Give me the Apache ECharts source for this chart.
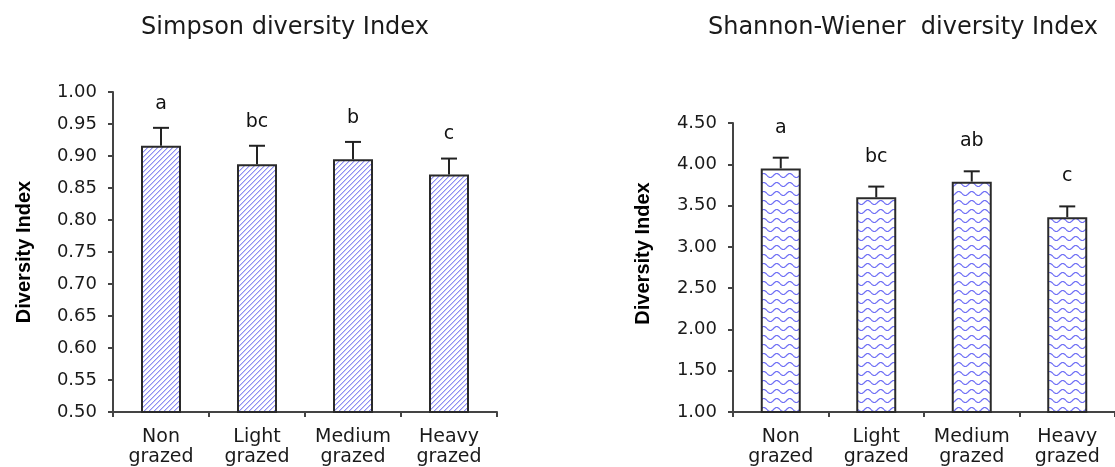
<!DOCTYPE html>
<html>
<head>
<meta charset="utf-8">
<script src="https://cdn.jsdelivr.net/npm/echarts@6/dist/echarts.min.js"></script>
<style>
html,body{margin:0;padding:0;background:#fff;}
#chart{width:1115px;height:467px;}
</style>
</head>
<body>
<div id="chart"></div>
<script>
const categories = ['Non\ngrazed', 'Light\ngrazed', 'Medium\ngrazed', 'Heavy\ngrazed'];
const simpsonMean = [0.916, 0.887, 0.895, 0.871];
const simpsonErr = [0.028, 0.029, 0.027, 0.025];
const simpsonLetters = ['a', 'bc', 'b', 'c'];
const shannonMean = [3.95, 3.60, 3.79, 3.36];
const shannonErr = [0.13, 0.13, 0.125, 0.13];
const shannonLetters = ['a', 'bc', 'ab', 'c'];
const titles = ['Simpson diversity Index', 'Shannon-Wiener  diversity Index'];
const yName = 'Diversity Index';

function diagPattern() {
  const n = 5;
  const c = document.createElement('canvas');
  c.width = n; c.height = n;
  const g = c.getContext('2d');
  g.fillStyle = '#ffffff'; g.fillRect(0, 0, n, n);
  for (let x = 0; x < n; x++) {
    const y = (n - 1 - x);
    g.fillStyle = '#8f8ff2';
    g.fillRect(x, y, 1, 1);
    g.fillStyle = '#c8c8fa';
    g.fillRect(x, (y + 1) % n, 1, 1);
  }
  return c;
}
function wavePattern() {
  const w = 13, h = 9;
  const c = document.createElement('canvas');
  c.width = w; c.height = h;
  const g = c.getContext('2d');
  g.fillStyle = '#ffffff'; g.fillRect(0, 0, w, h);
  g.strokeStyle = '#7070f5'; g.lineWidth = 1.2;
  g.beginPath();
  for (let x = 0; x <= w; x += 0.5) {
    const y = 4.5 + 2 * Math.sin(2 * Math.PI * x / w);
    if (x === 0) g.moveTo(x, y); else g.lineTo(x, y);
  }
  g.stroke();
  return c;
}

const FONT = "'DejaVu Sans', sans-serif";
const NAMEFONT = "'Liberation Sans', Arial, sans-serif";

function errRender(letters, offset) {
  return function (params, api) {
    const i = api.value(0);
    const base = api.coord([i, api.value(1)]);
    const top = api.coord([i, api.value(1) + api.value(2)]);
    const half = 8;
    const st = { stroke: '#222', lineWidth: 2 };
    return {
      type: 'group',
      children: [
        { type: 'line', shape: { x1: base[0], y1: base[1], x2: top[0], y2: top[1] }, style: st },
        { type: 'line', shape: { x1: top[0] - half, y1: top[1], x2: top[0] + half, y2: top[1] }, style: st },
        { type: 'text', x: top[0], y: top[1] - offset,
          style: { text: letters[i], fill: '#111', font: '19px ' + FONT, align: 'center', verticalAlign: 'middle' } }
      ]
    };
  };
}

const axisLineStyle = { color: '#444444', width: 2 };

function xAxisCfg(gi) {
  return {
    type: 'category', gridIndex: gi, data: categories,
    axisLine: { show: true, lineStyle: axisLineStyle },
    axisTick: { show: true, inside: false, length: 5, lineStyle: axisLineStyle },
    axisLabel: { color: '#1a1a1a', fontFamily: FONT, fontSize: 19, lineHeight: 20, margin: 15, interval: 0 }
  };
}
function yAxisCfg(gi, min, max, interval, gap, pad) {
  return {
    type: 'value', gridIndex: gi, min: min, max: max, interval: interval,
    name: yName, nameLocation: 'middle', nameGap: gap,
    nameTextStyle: { fontFamily: NAMEFONT, fontWeight: 'bold', fontSize: 20, color: '#000', padding: pad },
    axisLine: { show: true, lineStyle: axisLineStyle },
    axisTick: { show: true, length: 5, lineStyle: axisLineStyle },
    splitLine: { show: false },
    axisLabel: { color: '#1a1a1a', fontFamily: FONT, fontSize: 18, margin: 16,
      formatter: v => v.toFixed(2) }
  };
}

const chart = echarts.init(document.getElementById('chart'), null, { renderer: 'canvas' });
chart.setOption({
  backgroundColor: '#ffffff',
  animation: false,
  title: [
    { text: titles[0], left: 285, top: 16, textAlign: 'center', padding: 0,
      textStyle: { fontFamily: FONT, fontWeight: 'normal', fontSize: 24, color: '#1a1a1a' } },
    { text: titles[1], left: 903, top: 16, textAlign: 'center', padding: 0,
      textStyle: { fontFamily: FONT, fontWeight: 'normal', fontSize: 24, color: '#1a1a1a' } }
  ],
  grid: [
    { left: 113, top: 92, width: 384, height: 320 },
    { left: 733, top: 123, width: 387, height: 289 }
  ],
  xAxis: [xAxisCfg(0), xAxisCfg(1)],
  yAxis: [
    yAxisCfg(0, 0.5, 1.0, 0.05, 79, [0, 0, 0, 0]),
    yAxisCfg(1, 1.0, 4.5, 0.5, 80, [0, 0, 0, 28])
  ],
  series: [
    { type: 'bar', xAxisIndex: 0, yAxisIndex: 0, data: simpsonMean, barWidth: 40,
      itemStyle: { color: { image: diagPattern(), repeat: 'repeat' }, borderColor: '#2a2a2a', borderWidth: 2 } },
    { type: 'custom', xAxisIndex: 0, yAxisIndex: 0, z: 5,
      data: simpsonMean.map((v, i) => [i, v, simpsonErr[i]]),
      renderItem: errRender(simpsonLetters, 24) },
    { type: 'bar', xAxisIndex: 1, yAxisIndex: 1, data: shannonMean, barWidth: 40,
      itemStyle: { color: { image: wavePattern(), repeat: 'repeat' }, borderColor: '#2a2a2a', borderWidth: 2 } },
    { type: 'custom', xAxisIndex: 1, yAxisIndex: 1, z: 5,
      data: shannonMean.map((v, i) => [i, v, shannonErr[i]]),
      renderItem: errRender(shannonLetters, 30) }
  ]
});
</script>
</body>
</html>
